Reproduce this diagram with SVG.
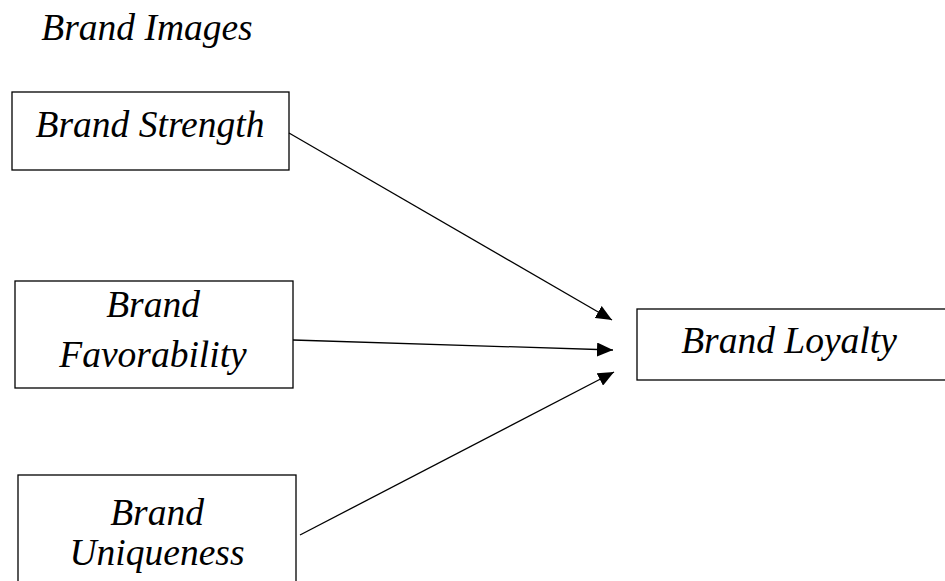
<svg xmlns="http://www.w3.org/2000/svg" width="945" height="581" viewBox="0 0 945 581">
<style>
text{font-family:'Liberation Serif','Times New Roman',serif;font-style:italic;font-size:37.5px;fill:#000;text-anchor:middle}
.box{fill:#fff;stroke:#000;stroke-width:1.3}
.edge{stroke:#000;stroke-width:1.3;fill:none;marker-end:url(#ah)}
</style>
<defs>
<marker id="ah" viewBox="0 0 16 14" refX="16" refY="7" markerWidth="16" markerHeight="14" markerUnits="userSpaceOnUse" orient="auto">
<path d="M0,0 L16,7 L0,14 Z" fill="#000"/>
</marker>
</defs>
<rect width="945" height="581" fill="#fff"/>
<text x="147" y="40">Brand Images</text>
<g id="strength">
<rect class="box" x="12" y="92" width="277" height="78"/>
<text x="150" y="137">Brand Strength</text>
</g>
<g id="favorability">
<rect class="box" x="15" y="281" width="278" height="107"/>
<text x="153" y="317">Brand</text>
<text x="153" y="367">Favorability</text>
</g>
<g id="uniqueness">
<rect class="box" x="18" y="475" width="278" height="120"/>
<text x="157" y="525">Brand</text>
<text x="157" y="565">Uniqueness</text>
</g>
<g id="loyalty">
<rect class="box" x="637" y="309" width="320" height="71"/>
<text x="789" y="353">Brand Loyalty</text>
</g>
<g id="connectors">
<line class="edge" x1="289" y1="133" x2="612" y2="320"/>
<line class="edge" x1="293" y1="340" x2="613" y2="350"/>
<line class="edge" x1="300" y1="535" x2="614" y2="372"/>
</g>
</svg>
